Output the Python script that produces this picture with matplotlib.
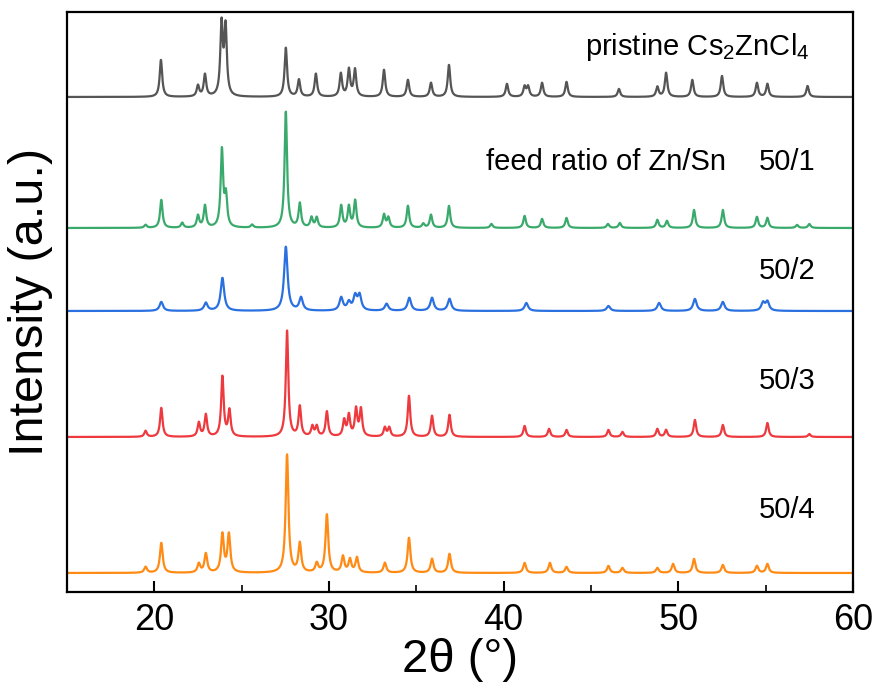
import matplotlib
matplotlib.use("Agg")
import matplotlib.pyplot as plt
import numpy as np

plt.rcParams['font.family'] = ['Liberation Sans', 'DejaVu Sans']
plt.rcParams['mathtext.fontset'] = 'custom'
plt.rcParams['mathtext.rm'] = 'Liberation Sans'

# peak positions (2theta, deg) and heights (a.u.)
pristine_pos = [20.38, 22.5, 22.9, 23.85, 24.08, 27.53, 28.28, 29.25, 30.68, 31.14, 31.49,
                33.15, 34.52, 35.84, 36.87, 40.19, 41.2, 41.4, 42.2, 43.6, 46.6, 48.8,
                49.3, 50.8, 52.5, 54.5, 55.1, 57.4]
pristine_h = [37, 11, 22, 71, 68, 49, 17, 23, 23, 27, 27,
              27, 17, 14, 32, 13, 10, 10, 14, 15, 8, 10,
              24, 17, 21, 14, 13, 11]

r1_pos = [19.5, 20.4, 21.6, 22.5, 22.9, 23.87, 24.1, 25.6, 27.53, 28.33, 29.0, 29.3,
          30.7, 31.14, 31.5, 33.15, 33.4, 34.52, 35.4, 35.84, 36.87, 39.3, 41.2,
          42.2, 43.6, 45.97, 46.65, 48.8, 49.35, 50.9, 52.55, 54.5, 55.1, 56.8, 57.5]
r1_h = [3, 28, 5, 12, 22, 77, 30, 3, 116, 24, 10, 10,
        22, 21, 27, 13, 10, 22, 4, 13, 22, 4, 12,
        9, 10, 4, 5, 8, 7, 18, 18, 11, 10, 3, 4]

r2_pos = [20.4, 22.95, 23.9, 27.53, 28.4, 30.7, 31.14, 31.5, 31.75, 33.3, 34.6,
          35.9, 36.9, 41.3, 46.0, 48.9, 50.95, 52.55, 54.85, 55.1]
r2_h = [9, 8, 33, 64, 13, 13, 8, 14, 15, 7, 13,
        13, 12, 8, 5, 8, 12, 9, 8, 9]

r3_pos = [19.5, 20.4, 22.55, 22.95, 23.9, 24.3, 27.6, 28.33, 29.05, 29.3, 29.88, 30.87,
          31.14, 31.55, 31.83, 33.2, 33.45, 34.58, 35.9, 36.9, 41.2, 42.6, 43.6,
          46.0, 46.8, 48.8, 49.3, 50.95, 52.55, 55.1, 57.5]
r3_h = [6, 29, 14, 22, 60, 26, 106, 30, 10, 10, 25, 16,
        21, 27, 27, 9, 9, 41, 21, 22, 11, 8, 7,
        7, 5, 8, 7, 17, 12, 14, 3]

r4_pos = [19.5, 20.4, 22.55, 22.95, 23.9, 24.27, 27.6, 28.33, 29.3, 29.88, 30.8,
          31.2, 31.6, 33.2, 34.58, 35.9, 36.9, 41.2, 42.65, 43.6, 46.0, 46.8,
          48.8, 49.7, 50.9, 52.55, 54.5, 55.1]
r4_h = [6, 30, 9, 19, 38, 38, 118, 29, 9, 58, 16,
        13, 15, 10, 35, 14, 19, 10, 10, 6, 7, 5,
        5, 9, 14, 8, 7, 9]

offsets = [495, 364, 281, 155, 19]
colors = ['#555555', '#3aaa6c', '#2a70e0', '#ee3a3e', '#ff8a14']
widths = [0.085, 0.085, 0.12, 0.085, 0.095]
ratio_labels = ['50/1', '50/2', '50/3', '50/4']

series = [(pristine_pos, pristine_h), (r1_pos, r1_h), (r2_pos, r2_h),
          (r3_pos, r3_h), (r4_pos, r4_h)]

fig = plt.figure(figsize=(8.8, 6.89), dpi=100)
ax = fig.add_axes([0.0761, 0.1408, 0.8932, 0.8418])

tt = np.linspace(15, 60, 4500)
for (pos, h), off, c, w in zip(series, offsets, colors, widths):
    y = np.zeros_like(tt)
    for p, a in zip(pos, h):
        y += a / (1 + ((tt - p) / w) ** 2)
    ax.plot(tt, y + off, color=c, lw=1.6)

ax.text(44.65, 545, r'pristine Cs$\mathregular{_2}$ZnCl$\mathregular{_4}$',
        fontsize=21, va='center', ha='left')
ax.text(38.98, 430, 'feed ratio of Zn/Sn', fontsize=21, va='center', ha='left')
for lab, yy in zip(ratio_labels, [430, 321, 211, 82]):
    ax.text(54.6, yy, lab, fontsize=21, va='center', ha='left')

ax.set_xlim(15, 60)
ax.set_ylim(0, 580)
ax.set_xticks([20, 30, 40, 50, 60])
ax.set_xticks([25, 35, 45, 55], minor=True)
ax.tick_params(axis='x', which='major', direction='in', length=8, width=1.5,
               labelsize=26, pad=8)
ax.tick_params(axis='x', which='minor', direction='in', length=5, width=1.2)
ax.set_yticks([])
for s in ax.spines.values():
    s.set_linewidth(1.6)
ax.set_xlabel('2θ (°)', fontsize=34, labelpad=0)
ax.set_ylabel('Intensity (a.u.)', fontsize=35, labelpad=10)

fig.savefig('out.png', dpi=100)
